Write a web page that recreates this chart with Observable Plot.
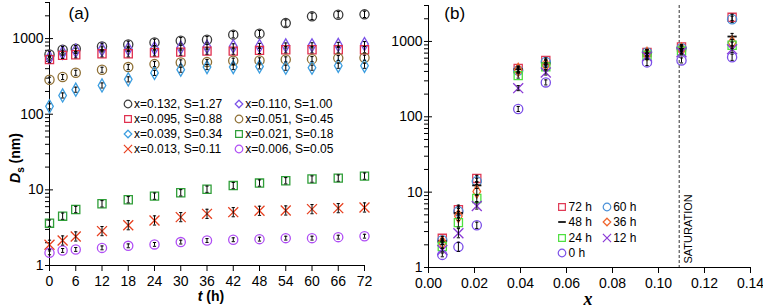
<!DOCTYPE html>
<html><head><meta charset="utf-8">
<script src="https://cdn.jsdelivr.net/npm/d3@7"></script>
<script src="https://cdn.jsdelivr.net/npm/@observablehq/plot@0.6"></script>
<style>
body{margin:0;background:#fff;font-family:Arial,"Liberation Sans",sans-serif;}
#wrap{position:relative;width:763px;height:307px;overflow:hidden;background:#fff}
.panel{position:absolute;top:0}
.lt{position:absolute;font-size:12px;line-height:16px;white-space:nowrap;color:#000}
.ls{position:absolute;overflow:visible}
.ttl{position:absolute;white-space:nowrap;color:#000;transform:translate(-50%,-50%)}
</style></head><body><div id="wrap"></div>
<script>
// ---------- data ----------
const tHours = [0,3,6,12,18,24,30,36,42,48,54,60,66,72];
const xComp = [0.132,0.110,0.095,0.051,0.039,0.021,0.013,0.006];
const seriesLabels = ["x=0.132, S=1.27","x=0.110, S=1.00","x=0.095, S=0.88","x=0.051, S=0.45","x=0.039, S=0.34","x=0.021, S=0.18","x=0.013, S=0.11","x=0.006, S=0.05"];
const ds132 = [617,713,735,788,838,891,938,967,1127,1162,1603,1968,2070,2090];
const ds110 = [560,650,690,720,730,745,760,780,790,800,810,815,825,845];
const ds095 = [527,600,612,631,631,650,662,683,683,698,713,713,713,713];
const ds051 = [286,310,353,387,420,460,484,489,510,515,531,535,552,558];
const ds039 = [127,177,211,240,289,352,388,420,420,429,412,412,437,437];
const ds021 = [3.63,4.49,5.5,6.55,7.4,8.26,9.15,10.2,11.4,12.3,13.2,13.9,14.3,15.2];
const ds013 = [1.88,2.14,2.42,2.85,3.41,3.94,4.36,4.82,5.07,5.29,5.34,5.56,5.73,5.85];
const ds006 = [1.47,1.58,1.63,1.71,1.82,1.9,2.04,2.14,2.19,2.23,2.3,2.3,2.37,2.44];
const errRel = [0.10,0.08,0.10,0.08,0.08,0.10,0.15,0.06];
const hoursB = [72,60,48,36,24,12,0];
const hourLabels = ["72 h","60 h","48 h","36 h","24 h","12 h","0 h"];
const yMajor = [1,10,100,1000];
const yMinor = [2,3,4,5,6,7,8,9,20,30,40,50,60,70,80,90,200,300,400,500,600,700,800,900,2000,3000];
const tTicks = [0,6,12,18,24,30,36,42,48,54,60,66,72];
const xTicks = [0,0.02,0.04,0.06,0.08,0.10,0.12,0.14];
const saturationX = 0.109;

// ---------- styles ----------
const dsAll = [ds132,ds110,ds095,ds051,ds039,ds021,ds013,ds006];
const colA = ["#3b3b3b","#7b52e8","#e0304f","#8f7035","#3c9ee0","#2f9e38","#e8401f","#b04ef5"];
const symA = ["circle","diamond","square","circle","diamond","square","times","circle"];
const dashSym = {draw(ctx,size){const w=Math.sqrt(size/Math.PI); ctx.moveTo(-w,0); ctx.lineTo(w,0);}};
const capSym = {draw(ctx,size){const w=Math.sqrt(size/Math.PI); ctx.moveTo(-w,0); ctx.lineTo(w,0);}};
const colB = ["#e03a55","#4a90d8","#111111","#f0642a","#4fe040","#8a3ad6","#7b4fe8"];
const symB = ["square","circle",dashSym,"diamond","square","times","circle"];
const rFor = s => s==="diamond" ? 4.0 : 4.6;

const rowsA = seriesLabels.flatMap((lab,i)=>tHours.map((t,j)=>({s:i,t,v:dsAll[i][j],e:errRel[i]})));
const rowsB = hoursB.flatMap((h,k)=>{const j=tHours.indexOf(h); return xComp.map((x,i)=>({h:k,x,v:dsAll[i][j],e:errRel[i]}));});

function errMarks(rows, xk){
  return [
    Plot.ruleX(rows,{x:xk,y1:d=>d.v/(1+d.e),y2:d=>d.v*(1+d.e),stroke:"#000",strokeWidth:1}),
    Plot.dot(rows,{x:xk,y:d=>d.v*(1+d.e),symbol:capSym,r:1.6,stroke:"#000",strokeWidth:1}),
    Plot.dot(rows,{x:xk,y:d=>d.v/(1+d.e),symbol:capSym,r:1.6,stroke:"#000",strokeWidth:1})
  ];
}
function yAxes(){
  return [
    Plot.axisY({ticks:yMajor,tickSize:8,dx:4,fill:"none",label:null}),
    Plot.axisY({ticks:yMinor,tickSize:4,fill:"none",label:null}),
    Plot.axisY({ticks:yMajor,tickSize:0,stroke:"none",tickPadding:6,tickFormat:d=>String(d),label:null})
  ];
}
const baseStyle = {fontFamily:"Arial, 'Liberation Sans', sans-serif",fontSize:"14px",color:"#000",background:"transparent",overflow:"visible"};

const plotA = Plot.plot({
  width:380,height:307,marginLeft:49,marginRight:16,marginTop:2,marginBottom:42,
  style:baseStyle,
  x:{domain:[0,72],label:null},
  y:{type:"log",domain:[1,3000],label:null},
  marks:[
    ...yAxes(),
    Plot.axisX({ticks:tTicks,tickSize:6,tickPadding:5,tickFormat:d=>String(d),label:null}),
    Plot.ruleX([0]),Plot.ruleY([1]),
    ...seriesLabels.map((lab,i)=>Plot.dot(rowsA.filter(d=>d.s===i),{x:"t",y:"v",symbol:symA[i],stroke:colA[i],fill:"none",r:rFor(symA[i]),strokeWidth:1.3})),
    ...errMarks(rowsA,"t")
  ]
});

const plotB = Plot.plot({
  width:383,height:307,marginLeft:48,marginRight:13,marginTop:5,marginBottom:40,
  style:baseStyle,
  x:{domain:[0,0.14],label:null},
  y:{type:"log",domain:[1,3000],label:null},
  marks:[
    ...yAxes(),
    Plot.axisX({ticks:xTicks,tickSize:6,tickPadding:5,tickFormat:d3.format(".2f"),label:null}),
    Plot.ruleX([0]),Plot.ruleY([1]),
    Plot.ruleX([saturationX],{stroke:"#333",strokeDasharray:"3,2",strokeWidth:1}),
    Plot.text(["SATURATION"],{x:[saturationX],frameAnchor:"bottom",rotate:-90,textAnchor:"start",dx:13,dy:-4,fontSize:11,fill:"#000"}),
    ...hoursB.map((h,k)=>Plot.dot(rowsB.filter(d=>d.h===k),{x:"x",y:"v",symbol:symB[k],stroke:colB[k],fill:"none",r:rFor(symB[k]),strokeWidth:k===2?1.8:1.3})),
    ...errMarks(rowsB,"x")
  ]
});

const wrap = document.getElementById("wrap");
plotA.classList.add("panel"); plotA.style.left="0px";
plotB.classList.add("panel"); plotB.style.left="380px";
wrap.appendChild(plotA); wrap.appendChild(plotB);

// ---------- legends ----------
const d3sym = {circle:d3.symbolCircle,square:d3.symbolSquare,diamond:d3.symbolDiamond2,times:d3.symbolTimes};
function addLegend(labels, cols, syms, o){
  labels.forEach((lab,i)=>{
    const c=i%2, r=Math.floor(i/2);
    const cx=o.x0+c*o.colW, cy=o.y0+r*o.rowH;
    const sym=syms[i]; const rr = sym==="diamond"? o.r*0.9 : o.r; const sz=Math.PI*rr*rr;
    const p=d3.symbol(typeof sym==="string"?d3sym[sym]:sym,sz)();
    const svg=document.createElementNS("http://www.w3.org/2000/svg","svg");
    svg.setAttribute("class","ls"); svg.setAttribute("width",14); svg.setAttribute("height",14);
    svg.setAttribute("viewBox","-7 -7 14 14");
    svg.style.left=(cx-7)+"px"; svg.style.top=(cy-7)+"px";
    const path=document.createElementNS("http://www.w3.org/2000/svg","path");
    path.setAttribute("d",p); path.setAttribute("fill","none"); path.setAttribute("stroke",cols[i]);
    path.setAttribute("stroke-width",sym===dashSym?1.8:1.2);
    svg.appendChild(path); wrap.appendChild(svg);
    const t=document.createElement("div"); t.className="lt"; t.textContent=lab;
    t.style.left=(cx+o.tOff)+"px"; t.style.top=(cy-8)+"px"; wrap.appendChild(t);
  });
}
addLegend(seriesLabels,colA,symA,{x0:127.7,y0:104,colW:111.3,rowH:15,tOff:6.3,r:3.8});
addLegend(hourLabels,colB,symB,{x0:562,y0:206.7,colW:44.7,rowH:15.5,tOff:6.5,r:3.8});

// ---------- titles ----------
function addTitle(html, x, y, css, rot){
  const d=document.createElement("div"); d.className="ttl"; d.innerHTML=html;
  d.style.left=x+"px"; d.style.top=y+"px"; Object.assign(d.style,css);
  if(rot) d.style.transform="translate(-50%,-50%) rotate(-90deg)";
  wrap.appendChild(d);
}
addTitle("(a)",79,13.7,{fontSize:"17px"});
addTitle("(b)",454.7,13.5,{fontSize:"17px"});
addTitle('<i>D</i><span style="font-size:10px;position:relative;top:4px">s</span> (nm)',15,158,{fontSize:"14px",fontWeight:"bold"},true);
addTitle('<i>t</i> (h)',211,295.5,{fontSize:"14px",fontWeight:"bold"});
addTitle('<i>x</i>',588,299,{fontSize:"18px",fontWeight:"bold",fontFamily:"'Liberation Serif','DejaVu Serif',serif"});
</script></body></html>
